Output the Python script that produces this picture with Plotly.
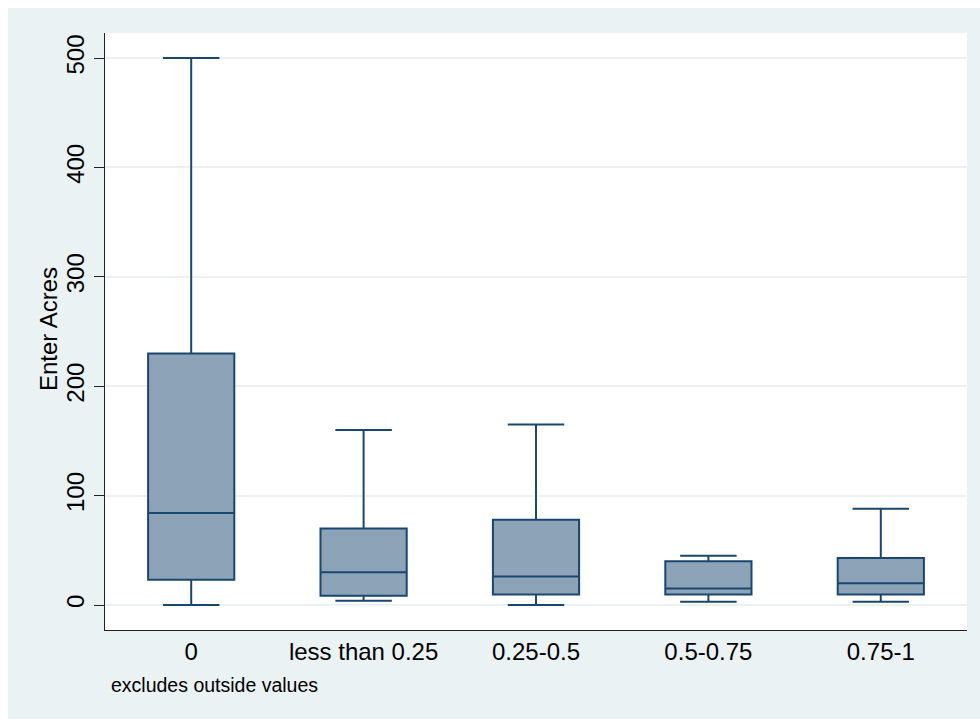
import plotly.graph_objects as go

# Share-of-land groups and their box-plot summaries (acres)
categories = ["0", "less than 0.25", "0.25-0.5", "0.5-0.75", "0.75-1"]
lower_adj = [0, 4, 0, 3, 3]
q1_vals = [23, 8.5, 9.5, 9.5, 9.5]
medians = [84, 30, 26, 15, 20]
q3_vals = [230, 70, 78, 40, 43]
upper_adj = [500, 160, 165, 45, 88]

y_ticks = [0, 100, 200, 300, 400, 500]

W, H = 980, 719
ML, MR, MT, MB = 105, 13, 33, 89
PW, PH = W - ML - MR, H - MT - MB

FONT = "Liberation Sans, Arial, Helvetica, sans-serif"
NAVY = "#1A476F"
FILL = "#8DA3B8"
BG = "#EAF2F3"

fig = go.Figure()
fig.add_trace(go.Box(
    x=categories,
    lowerfence=lower_adj,
    q1=q1_vals,
    median=medians,
    q3=q3_vals,
    upperfence=upper_adj,
    boxpoints=False,
    width=0.5,
    whiskerwidth=0.655,
    fillcolor=FILL,
    line=dict(color=NAVY, width=2),
    showlegend=False,
    hoverinfo="skip",
))


def px_x(p):
    return (p - ML) / PW


def px_y(p):
    return (H - MB - p) / PH


# white page margin along the top and left edges
shapes = [
    dict(type="rect", xref="paper", yref="paper", layer="above",
         x0=px_x(0), x1=px_x(W), y0=px_y(8), y1=px_y(-2),
         fillcolor="white", line=dict(width=0)),
    dict(type="rect", xref="paper", yref="paper", layer="above",
         x0=px_x(-2), x1=px_x(8), y0=px_y(H + 2), y1=px_y(-2),
         fillcolor="white", line=dict(width=0)),
]

fig.update_layout(
    width=W, height=H,
    margin=dict(l=ML, r=MR, t=MT, b=MB, pad=0),
    paper_bgcolor=BG,
    plot_bgcolor="white",
    font=dict(family=FONT, size=24, color="black"),
    shapes=shapes,
    annotations=[
        dict(text="excludes outside values", xref="paper", yref="paper",
             x=px_x(109), y=px_y(685), xanchor="left", yanchor="middle",
             showarrow=False, font=dict(family=FONT, size=19.5, color="black")),
        dict(text="Enter Acres", xref="paper", yref="paper",
             x=px_x(48), y=px_y(329), xanchor="center", yanchor="middle",
             textangle=-90, showarrow=False,
             font=dict(family=FONT, size=24, color="black")),
    ],
    xaxis=dict(
        type="category",
        range=[-0.5, 4.5],
        showline=True, linecolor="#222222", linewidth=1.3,
        showgrid=False, ticks="", zeroline=False,
        tickfont=dict(family=FONT, size=24, color="black"),
    ),
    yaxis=dict(
        range=[-22.85, 522.9],
        tickvals=y_ticks,
        ticktext=[str(v) for v in y_ticks],
        tickangle=-90,
        ticks="outside", ticklen=10, tickcolor="#222222", tickwidth=1.3,
        showline=True, linecolor="#222222", linewidth=1.3,
        showgrid=True, gridcolor=BG, gridwidth=2,
        zeroline=False,
        tickfont=dict(family=FONT, size=24, color="black"),
    ),
)

fig.write_html("out.html")
